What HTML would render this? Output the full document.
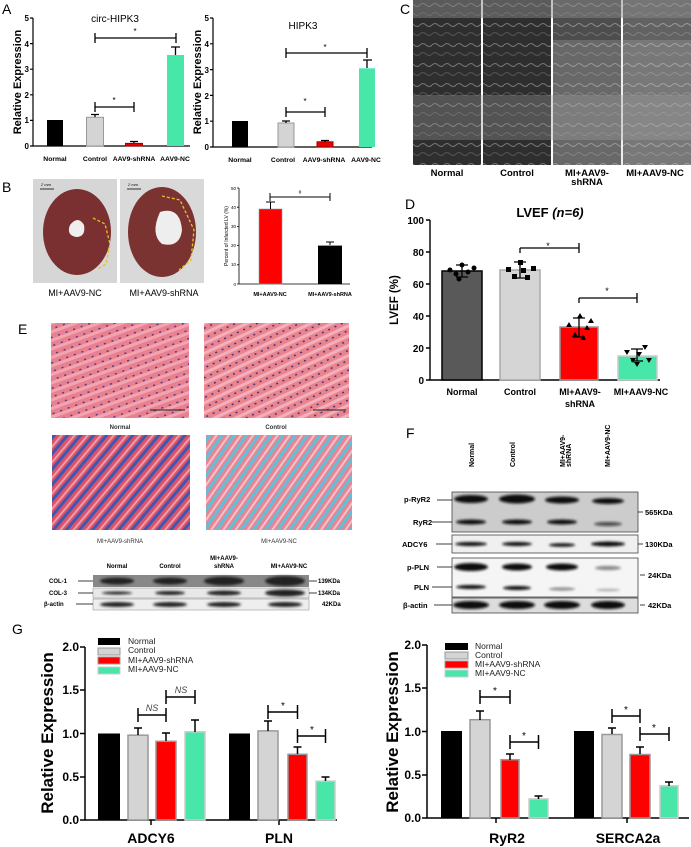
<!DOCTYPE html>
<html><head><meta charset="utf-8"><style>
html,body{margin:0;padding:0;background:#fff;}
svg{display:block;font-family:"Liberation Sans",sans-serif;}
.b{font-weight:bold;}
</style></head><body>
<svg width="691" height="847" viewBox="0 0 691 847" xmlns="http://www.w3.org/2000/svg">
<defs>
<pattern id="he" width="8" height="8" patternUnits="userSpaceOnUse" patternTransform="rotate(70)">
<rect width="8" height="8" fill="#e8808f"/><rect width="3" height="8" fill="#f2a5b0"/><rect x="6" y="2" width="1.5" height="2" fill="#5a3a8a"/></pattern>
<pattern id="he2" width="9" height="7" patternUnits="userSpaceOnUse" patternTransform="rotate(65)">
<rect width="9" height="7" fill="#e9848f"/><rect width="3" height="7" fill="#f4b0ba"/><rect x="5" y="1" width="1.5" height="2" fill="#4b3380"/></pattern>
<pattern id="mt1" width="10" height="10" patternUnits="userSpaceOnUse" patternTransform="rotate(40)">
<rect width="10" height="10" fill="#d9536a"/><rect width="3" height="10" fill="#3f57b0"/><rect x="6" width="2" height="10" fill="#ef9aa8"/></pattern>
<pattern id="mt2" width="10" height="10" patternUnits="userSpaceOnUse" patternTransform="rotate(35)">
<rect width="10" height="10" fill="#e48696"/><rect width="3" height="10" fill="#5fc0d8"/><rect x="6" width="2" height="10" fill="#f5c0c8"/></pattern>
<pattern id="echo" width="12" height="20" patternUnits="userSpaceOnUse">
<rect width="12" height="20" fill="#2e2e2e"/><path d="M0 5 Q3 2 6 5 T12 5" stroke="#777" fill="none"/><path d="M0 14 Q3 11 6 14 T12 14" stroke="#555" fill="none"/></pattern>
<filter id="bl"><feGaussianBlur stdDeviation="1.3"/></filter>
</defs>

<!-- Panel A -->
<text x="2" y="14" font-size="14">A</text>
<g font-size="8" class="b" text-anchor="end">
<text x="29" y="21">5</text><text x="29" y="47">4</text><text x="29" y="72">3</text><text x="29" y="98">2</text><text x="29" y="123">1</text><text x="29" y="149">0</text>
<text x="209" y="21">5</text><text x="209" y="47">4</text><text x="209" y="73">3</text><text x="209" y="99">2</text><text x="209" y="124">1</text><text x="209" y="150">0</text>
</g>
<text transform="translate(21,82) rotate(-90)" font-size="11" class="b" text-anchor="middle">Relative Expression</text>
<text transform="translate(201,82) rotate(-90)" font-size="11" class="b" text-anchor="middle">Relative Expression</text>
<text x="115" y="22" font-size="10" text-anchor="middle">circ-HIPK3</text>
<text x="303" y="29" font-size="10" text-anchor="middle">HIPK3</text>
<g stroke="#000" stroke-width="1.2" fill="none">
<path d="M33 18V146H190"/><path d="M30 18h3M30 43.6h3M30 69.2h3M30 94.8h3M30 120.4h3M30 146h3"/>
<path d="M213 18V147H372"/><path d="M210 18h3M210 43.8h3M210 69.6h3M210 95.4h3M210 121.2h3M210 147h3"/>
</g>
<rect x="47" y="120" width="16" height="26" fill="#000"/>
<rect x="86.5" y="117.3" width="17" height="28.7" fill="#d4d4d4" stroke="#999"/>
<rect x="125.5" y="143.4" width="17" height="2.6" fill="#e00" stroke="#900"/>
<rect x="167" y="55" width="17" height="91" fill="#49e6aa"/>
<g stroke="#000" stroke-width="1.3">
<path d="M95 117v-2.5M91 114.5h8"/><path d="M134 143v-1.5M130 141.5h8"/><path d="M175.5 55v-8M171 47h9"/>
<path d="M95 38h81M95 33v10M176 33v10"/><path d="M95 107h39M95 102v10M134 102v10"/>
</g>
<text x="135" y="34" font-size="8" text-anchor="middle">*</text><text x="114" y="103" font-size="8" text-anchor="middle">*</text>
<rect x="232" y="121" width="16" height="26" fill="#000"/>
<rect x="278" y="123" width="16" height="24" fill="#d4d4d4" stroke="#999"/>
<rect x="317" y="141.8" width="16" height="5.2" fill="#e00" stroke="#900"/>
<rect x="359" y="68.3" width="16" height="78.7" fill="#49e6aa"/>
<g stroke="#000" stroke-width="1.3">
<path d="M286 123v-2M282 121h8"/><path d="M325 142v-1.5M321 140.5h8"/><path d="M367 68v-8M363 60h9"/>
<path d="M286 53h81M286 48v10M367 48v10"/><path d="M286 112h39M286 107v10M325 107v10"/>
</g>
<text x="325" y="50" font-size="8" text-anchor="middle">*</text><text x="305" y="104" font-size="8" text-anchor="middle">*</text>
<g font-size="6.8" class="b" text-anchor="middle">
<text x="55" y="161">Normal</text><text x="95" y="161">Control</text><text x="134" y="161">AAV9-shRNA</text><text x="175" y="161">AAV9-NC</text>
<text x="240" y="162">Normal</text><text x="283" y="162">Control</text><text x="324" y="162">AAV9-shRNA</text><text x="366" y="162">AAV9-NC</text>
</g>

<!-- Panel C -->
<text x="400" y="14" font-size="14">C</text>
<rect x="413" y="0" width="68" height="165" fill="url(#echo)"/>
<rect x="483" y="0" width="68" height="165" fill="url(#echo)"/>
<rect x="553" y="0" width="68" height="165" fill="url(#echo)" opacity="0.85"/>
<rect x="623" y="0" width="68" height="165" fill="url(#echo)" opacity="0.75"/>
<rect x="413" y="0" width="278" height="18" fill="#888" opacity="0.5"/>
<rect x="413" y="95" width="278" height="45" fill="#999" opacity="0.35"/>
<rect x="553" y="40" width="138" height="125" fill="#bbb" opacity="0.25"/>
<g font-size="9.5" class="b" text-anchor="middle">
<text x="447" y="176">Normal</text><text x="517" y="176">Control</text><text x="587" y="176">MI+AAV9-</text><text x="587" y="185">shRNA</text><text x="655" y="176">MI+AAV9-NC</text>
</g>

<!-- Panel B -->
<text x="2" y="192" font-size="14">B</text>
<rect x="33" y="179" width="84" height="104" fill="#d6d6d6"/>
<rect x="120" y="179" width="84" height="104" fill="#d9d9d9"/>
<ellipse cx="77" cy="232" rx="34" ry="43" fill="#7a3030"/>
<path d="M70 225q8-10 14 0q2 12-8 12q-10-2-6-12z" fill="#eee"/>
<ellipse cx="162" cy="232" rx="34" ry="45" fill="#7b3332"/>
<path d="M160 212q20-6 22 18q-2 18-20 14q-12-10-2-32z" fill="#eee"/>
<path d="M93 218l12 6 5 20-4 20-8 5" stroke="#e8c020" stroke-dasharray="3 2" fill="none" stroke-width="1.3"/>
<path d="M162 196l18 4 14 30-3 30-12 10" stroke="#e8c020" stroke-dasharray="3 2" fill="none" stroke-width="1.3"/>
<path d="M40 189h14M127 189h14" stroke="#333"/>
<text x="41" y="186" font-size="4" font-style="italic">2 mm</text><text x="128" y="186" font-size="4" font-style="italic">2 mm</text>
<g font-size="9" text-anchor="middle"><text x="75" y="296">MI+AAV9-NC</text><text x="164" y="296">MI+AAV9-shRNA</text></g>
<g stroke="#000" stroke-width="0.8" fill="none"><path d="M239 188V284H350"/><path d="M237 188h2M237 207.2h2M237 226.4h2M237 245.6h2M237 264.8h2M237 284h2"/></g>
<g font-size="4.5" text-anchor="end"><text x="236" y="190">50</text><text x="236" y="209">40</text><text x="236" y="228">30</text><text x="236" y="247">20</text><text x="236" y="266">10</text><text x="236" y="286">0</text></g>
<text transform="translate(228,236) rotate(-90)" font-size="5" text-anchor="middle">Percent of Infarcted LV (%)</text>
<rect x="259" y="209" width="23" height="75" fill="#f00" stroke="#999" stroke-width="0.6"/>
<rect x="318" y="245.6" width="24" height="38.4" fill="#000"/>
<g stroke="#000" stroke-width="1"><path d="M270.5 209v-7M266 202h9"/><path d="M330 245v-3M326 242h8"/><path d="M270 197h60M270 193v8M330 193v8"/></g>
<text x="300" y="194" font-size="5" text-anchor="middle">#</text>
<g font-size="5.5" class="b" text-anchor="middle"><text x="270" y="296">MI+AAV9-NC</text><text x="330" y="296">MI+AAV9-shRNA</text></g>

<!-- Panel D -->
<text x="405" y="209" font-size="14">D</text>
<text x="550" y="217" font-size="13" class="b" text-anchor="middle">LVEF <tspan font-style="italic">(n=6)</tspan></text>
<g stroke="#000" stroke-width="1.4" fill="none"><path d="M430 220V380H660"/><path d="M426 220h4M426 252h4M426 284h4M426 316h4M426 348h4M426 380h4"/></g>
<g font-size="10" class="b" text-anchor="end"><text x="424" y="224">100</text><text x="424" y="256">80</text><text x="424" y="288">60</text><text x="424" y="320">40</text><text x="424" y="352">20</text><text x="424" y="384">0</text></g>
<text transform="translate(398,300) rotate(-90)" font-size="11.5" class="b" text-anchor="middle">LVEF (%)</text>
<rect x="442" y="271" width="40" height="109" fill="#595959" stroke="#000" stroke-width="1.5"/>
<rect x="500" y="270" width="40" height="110" fill="#d5d5d5" stroke="#aaa" stroke-width="1.5"/>
<rect x="560" y="327" width="38" height="53" fill="#f00" stroke="#999" stroke-width="1.5"/>
<rect x="618" y="356" width="39" height="24" fill="#49e6aa" stroke="#ccc" stroke-width="1.5"/>
<g stroke="#000" stroke-width="1.3">
<path d="M462 265v12M456 265h12M456 277h12"/><path d="M520 262v16M514 262h12M514 278h12"/>
<path d="M579 318v19M573 318h12M573 337h12"/><path d="M637 349v12M631 349h12M631 361h12"/>
<path d="M520 248h59M579 243v10M520 248v5"/><path d="M579 298h58M637 293v10M579 298v5"/>
</g>
<text x="548" y="249" font-size="9" text-anchor="middle">*</text><text x="607" y="294" font-size="9" text-anchor="middle">*</text>
<g fill="#000">
<circle cx="450" cy="270" r="2.5"/><circle cx="456" cy="274" r="2.5"/><circle cx="462" cy="265" r="2.5"/><circle cx="468" cy="272" r="2.5"/><circle cx="474" cy="268" r="2.5"/><circle cx="459" cy="279" r="2.5"/>
<rect x="506" y="267" width="5" height="5"/><rect x="512" y="274" width="5" height="5"/><rect x="518" y="260" width="5" height="5"/><rect x="525" y="275" width="5" height="5"/><rect x="531" y="266" width="5" height="5"/><rect x="521" y="268" width="5" height="5"/>
<path d="M566 327l3-5 3 5z M572 337l3-5 3 5z M577 318l3-5 3 5z M584 330l3-5 3 5z M588 323l3-5 3 5z M580 340l3-5 3 5z"/>
<path d="M624 350l3 5 3-5z M630 358l3 5 3-5z M636 352l3 5 3-5z M642 345l3 5 3-5z M646 358l3 5 3-5z M634 362l3 5 3-5z"/>
</g>
<g font-size="9" class="b" text-anchor="middle"><text x="462" y="395">Normal</text><text x="520" y="395">Control</text><text x="580" y="395">MI+AAV9-</text><text x="580" y="407">shRNA</text><text x="641" y="395">MI+AAV9-NC</text></g>

<!-- Panel E -->
<text x="18" y="334" font-size="14">E</text>
<rect x="51" y="323" width="138" height="95" fill="url(#he)"/>
<rect x="204" y="323" width="145" height="95" fill="url(#he2)"/>
<path d="M150 410h35M313 410h33" stroke="#222"/>
<g font-size="6" class="b" text-anchor="middle" fill="#333"><text x="120" y="429">Normal</text><text x="276" y="429">Control</text></g>
<rect x="52" y="435" width="138" height="95" fill="url(#mt1)"/>
<rect x="206" y="435" width="146" height="95" fill="url(#mt2)"/>
<g font-size="6" text-anchor="middle" fill="#333"><text x="120" y="543">MI+AAV9-shRNA</text><text x="279" y="543">MI+AAV9-NC</text></g>
<g font-size="6" class="b" text-anchor="middle"><text x="117" y="568">Normal</text><text x="170" y="568">Control</text><text x="224" y="560">MI+AAV9-</text><text x="224" y="568">shRNA</text><text x="289" y="568">MI+AAV9-NC</text></g>
<rect x="93" y="575" width="216" height="12" fill="#888"/>
<rect x="93" y="588" width="216" height="10" fill="#e8e8e8" stroke="#888" stroke-width="0.5"/>
<rect x="93" y="599" width="216" height="11" fill="#eee" stroke="#888" stroke-width="0.5"/>
<g fill="#222" filter="url(#bl)">
<ellipse cx="117" cy="581" rx="17" ry="3.5"/><ellipse cx="170" cy="581" rx="17" ry="3.5"/><ellipse cx="224" cy="581" rx="20" ry="4.5"/><ellipse cx="285" cy="581" rx="20" ry="5"/>
<ellipse cx="117" cy="593" rx="15" ry="1.5"/><ellipse cx="170" cy="593" rx="15" ry="2"/><ellipse cx="224" cy="593" rx="17" ry="2.5"/><ellipse cx="285" cy="593" rx="20" ry="3.5"/>
<ellipse cx="117" cy="604.5" rx="17" ry="2.5"/><ellipse cx="170" cy="604.5" rx="17" ry="2.5"/><ellipse cx="224" cy="604.5" rx="17" ry="2.5"/><ellipse cx="285" cy="604.5" rx="17" ry="2.5"/>
</g>
<g font-size="6" class="b"><text x="49" y="583">COL-1</text><text x="49" y="595">COL-3</text><text x="44" y="606">β-actin</text>
<text x="318" y="583">139KDa</text><text x="318" y="595">134KDa</text><text x="322" y="606">42KDa</text></g>
<path d="M78 581h15M78 593h15M76 604h17M309 581h8M309 593h8" stroke="#000" stroke-width="0.7"/>

<!-- Panel F -->
<text x="406" y="438" font-size="14">F</text>
<g font-size="7" class="b">
<text transform="translate(474,467) rotate(-90)">Normal</text><text transform="translate(515,467) rotate(-90)">Control</text>
<text transform="translate(565,467) rotate(-90)">MI+AAV9-</text><text transform="translate(571,467) rotate(-90)">shRNA</text>
<text transform="translate(610,467) rotate(-90)">MI+AAV9-NC</text></g>
<rect x="452" y="492" width="186" height="40" fill="#ccc" stroke="#444" stroke-width="0.8"/>
<rect x="452" y="535" width="186" height="18" fill="#f0f0f0" stroke="#444" stroke-width="0.8"/>
<rect x="452" y="558" width="186" height="39" fill="#f5f5f5" stroke="#444" stroke-width="0.8"/>
<rect x="452" y="598" width="186" height="15" fill="#ddd" stroke="#444" stroke-width="0.8"/>
<g fill="#111" filter="url(#bl)">
<ellipse cx="471" cy="499" rx="17" ry="4"/><ellipse cx="517" cy="499" rx="18" ry="4.5"/><ellipse cx="562" cy="500" rx="17" ry="3.5"/><ellipse cx="608" cy="501" rx="16" ry="3"/>
<ellipse cx="471" cy="522" rx="15" ry="2.5"/><ellipse cx="517" cy="522" rx="15" ry="2.5"/><ellipse cx="562" cy="522" rx="15" ry="2.5"/><ellipse cx="608" cy="524" rx="14" ry="2" opacity="0.7"/>
<ellipse cx="471" cy="544" rx="16" ry="2"/><ellipse cx="517" cy="544" rx="15" ry="2"/><ellipse cx="562" cy="545" rx="13" ry="1.8"/><ellipse cx="608" cy="544" rx="17" ry="2.5"/>
<ellipse cx="471" cy="567" rx="17" ry="4"/><ellipse cx="517" cy="567" rx="15" ry="3.5"/><ellipse cx="562" cy="567" rx="16" ry="3.5"/><ellipse cx="608" cy="568" rx="13" ry="2" opacity="0.5"/>
<ellipse cx="471" cy="587" rx="15" ry="2"/><ellipse cx="517" cy="588" rx="14" ry="2"/><ellipse cx="562" cy="589" rx="13" ry="1.5" opacity="0.5"/><ellipse cx="608" cy="590" rx="12" ry="1.2" opacity="0.3"/>
<ellipse cx="471" cy="605" rx="18" ry="4"/><ellipse cx="517" cy="605" rx="18" ry="4"/><ellipse cx="562" cy="605" rx="18" ry="4"/><ellipse cx="608" cy="605" rx="17" ry="4"/>
</g>
<g font-size="7.5" class="b"><text x="404" y="502">p-RyR2</text><text x="413" y="525">RyR2</text><text x="402" y="547">ADCY6</text><text x="407" y="570">p-PLN</text><text x="414" y="590">PLN</text><text x="403" y="608">β-actin</text>
<text x="645" y="515">565KDa</text><text x="645" y="547">130KDa</text><text x="648" y="578">24KDa</text><text x="648" y="608">42KDa</text></g>
<path d="M437 500h15M432 522h20M436 544h16M437 567h15M432 587h20M434 605h18M638 512h5M638 544h5M640 575h5M640 605h5" stroke="#000" stroke-width="0.7"/>

<!-- Panel G -->
<text x="12" y="634" font-size="14">G</text>
<!-- left chart -->
<g stroke="#000" stroke-width="1.5" fill="none"><path d="M85 647V820H337"/><path d="M80 647h5M80 690h5M80 733.5h5M80 777h5M80 820h5M151 820v5M279 820v5"/></g>
<g font-size="12" class="b" text-anchor="end"><text x="79" y="651">2.0</text><text x="79" y="694">1.5</text><text x="79" y="738">1.0</text><text x="79" y="781">0.5</text><text x="79" y="824">0.0</text></g>
<text transform="translate(53,733) rotate(-90)" font-size="17" class="b" text-anchor="middle">Relative Expression</text>
<g font-size="14" class="b" text-anchor="middle"><text x="151" y="843">ADCY6</text><text x="279" y="843">PLN</text></g>
<rect x="98" y="733.5" width="22" height="86.5" fill="#000"/>
<rect x="128" y="735.2" width="20" height="84.8" fill="#d4d4d4" stroke="#999" stroke-width="1.5"/>
<rect x="156" y="741.3" width="20" height="78.7" fill="#f00" stroke="#999" stroke-width="1.5"/>
<rect x="185" y="731.8" width="20" height="88.2" fill="#49e6aa" stroke="#ccc" stroke-width="1.5"/>
<rect x="229" y="733.5" width="21" height="86.5" fill="#000"/>
<rect x="258" y="730.9" width="20" height="89.1" fill="#d4d4d4" stroke="#999" stroke-width="1.5"/>
<rect x="288" y="754.3" width="19" height="65.7" fill="#f00" stroke="#999" stroke-width="1.5"/>
<rect x="316" y="781.1" width="19" height="38.9" fill="#49e6aa" stroke="#ccc" stroke-width="1.5"/>
<g stroke="#000" stroke-width="1.5">
<path d="M138 735v-7M134 728h8"/><path d="M166 741v-8M162 733h8"/><path d="M195 732v-12M191 720h8"/>
<path d="M268 731v-10M264 721h8"/><path d="M297.5 754v-7M293.5 747h8"/><path d="M325.5 781v-4M321.5 777h8"/>
<path d="M138 715h28M138 708v14M166 708v14"/><path d="M166 697h29M166 690v14M195 690v14"/>
<path d="M268 712h29.5M268 705v14M297.5 705v14"/><path d="M297.5 736h28M297.5 729v14M325.5 729v14"/>
</g>
<g font-size="9" font-style="italic" text-anchor="middle" fill="#444"><text x="152" y="711">NS</text><text x="181" y="693">NS</text></g>
<g font-size="10" text-anchor="middle"><text x="283" y="709">*</text><text x="312" y="733">*</text></g>
<rect x="98" y="638" width="22" height="7" fill="#000"/>
<rect x="98" y="648" width="22" height="7" fill="#d4d4d4" stroke="#999"/>
<rect x="98" y="657" width="22" height="7" fill="#f00" stroke="#999"/>
<rect x="98" y="667" width="22" height="7" fill="#49e6aa" stroke="#ccc"/>
<g font-size="8.5" fill="#222"><text x="128" y="644">Normal</text><text x="128" y="653">Control</text><text x="128" y="663">MI+AAV9-shRNA</text><text x="128" y="672">MI+AAV9-NC</text></g>
<!-- right chart -->
<g stroke="#000" stroke-width="1.5" fill="none"><path d="M427 645V818H689"/><path d="M422 645h5M422 688h5M422 731.5h5M422 775h5M422 818h5M496 818v5M627 818v5"/></g>
<g font-size="12" class="b" text-anchor="end"><text x="421" y="649">2.0</text><text x="421" y="692">1.5</text><text x="421" y="736">1.0</text><text x="421" y="779">0.5</text><text x="421" y="822">0.0</text></g>
<text transform="translate(398,732) rotate(-90)" font-size="17" class="b" text-anchor="middle">Relative Expression</text>
<g font-size="14" class="b" text-anchor="middle"><text x="507" y="843">RyR2</text><text x="628" y="843">SERCA2a</text></g>
<rect x="441" y="731" width="21" height="87" fill="#000"/>
<rect x="470" y="719.7" width="20" height="98.3" fill="#d4d4d4" stroke="#999" stroke-width="1.5"/>
<rect x="501" y="759.7" width="18" height="58.3" fill="#f00" stroke="#999" stroke-width="1.5"/>
<rect x="529" y="798.9" width="19" height="19.1" fill="#49e6aa" stroke="#ccc" stroke-width="1.5"/>
<rect x="574" y="731" width="20" height="87" fill="#000"/>
<rect x="602" y="734.5" width="20" height="83.5" fill="#d4d4d4" stroke="#999" stroke-width="1.5"/>
<rect x="630" y="754.5" width="20" height="63.5" fill="#f00" stroke="#999" stroke-width="1.5"/>
<rect x="660" y="785.8" width="18" height="32.2" fill="#49e6aa" stroke="#ccc" stroke-width="1.5"/>
<g stroke="#000" stroke-width="1.5">
<path d="M480 720v-9M476 711h8"/><path d="M510 760v-6M506 754h8"/><path d="M538.5 799v-3M534.5 796h8"/>
<path d="M612 734v-6M608 728h8"/><path d="M640 754v-7M636 747h8"/><path d="M669 786v-4M665 782h8"/>
<path d="M480 697h30M480 690v14M510 690v14"/><path d="M510 742h28.5M510 735v14M538.5 735v14"/>
<path d="M612 716h28M612 709v14M640 709v14"/><path d="M640 734h29M640 727v14M669 727v14"/>
</g>
<g font-size="10" text-anchor="middle"><text x="495" y="694">*</text><text x="524" y="739">*</text><text x="626" y="713">*</text><text x="654" y="731">*</text></g>
<rect x="445" y="643" width="23" height="7" fill="#000"/>
<rect x="445" y="652" width="23" height="7" fill="#d4d4d4" stroke="#999"/>
<rect x="445" y="661" width="23" height="7" fill="#f00" stroke="#999"/>
<rect x="445" y="670" width="23" height="7" fill="#49e6aa" stroke="#ccc"/>
<g font-size="8.5" fill="#222"><text x="475" y="649">Normal</text><text x="475" y="658">Control</text><text x="475" y="667">MI+AAV9-shRNA</text><text x="475" y="676">MI+AAV9-NC</text></g>
</svg>
</body></html>
